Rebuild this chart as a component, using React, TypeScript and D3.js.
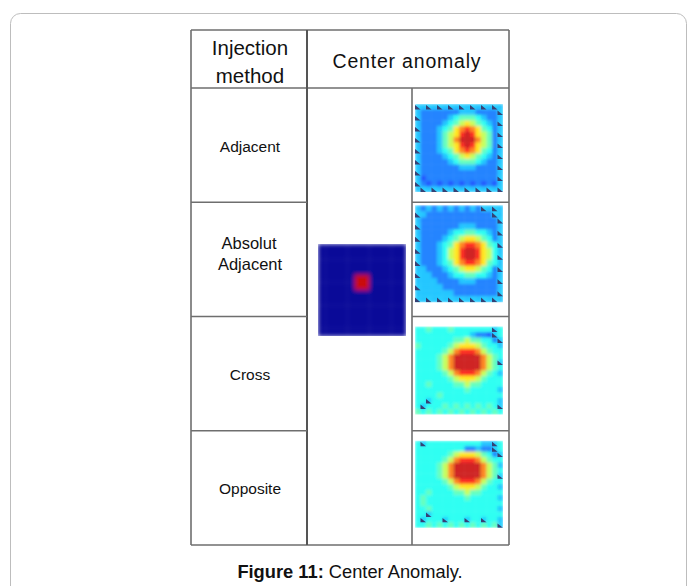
import React from "react";
import * as d3 from "d3";

// ---------- data ----------
const METHODS = ["Adjacent", "Absolut\nAdjacent", "Cross", "Opposite"];
const HEADER_LEFT = ["Injection", "method"];
const HEADER_RIGHT = "Center anomaly";
const CAPTION_BOLD = "Figure 11:";
const CAPTION_TEXT = " Center Anomaly.";

// colour levels (jet colormap positions) keyed by character; "0" marks dark edge triangles
const LEVEL_KEYS = "z0123456789a";
const LEVEL_VALUES = [0.02, 0.32, 0.18, 0.235, 0.31, 0.39, 0.45, 0.56, 0.65, 0.76, 0.86, 0.93];

// injected anomaly (input model)
const INPUT_GRID = [
  "zzzzzzzzzzzz",
  "zzzzzzzzzzzz",
  "zzzzzzzzzzzz",
  "zzzzzzzzzzzz",
  "zzzzzaazzzzz",
  "zzzzzaazzzzz",
  "zzzzzzzzzzzz",
  "zzzzzzzzzzzz",
  "zzzzzzzzzzzz",
  "zzzzzzzzzzzz",
  "zzzzzzzzzzzz",
  "zzzzzzzzzzzz",
];

const ADJACENT_GRID = [
  "0303030303030303",
  "3222222233322220",
  "0222223455543223",
  "3222234567654320",
  "0222345789875423",
  "322235679a976520",
  "02223568aaa86523",
  "322235679a976520",
  "0222345789875423",
  "3222234567654320",
  "0222223455543223",
  "3222222233322220",
  "0222222222222223",
  "3122222222222220",
  "0212121212121213",
  "3030303030303030",
];

const ABSOLUT_GRID = [
  "3232323232320303",
  "0322222222222203",
  "3222222222222220",
  "0222222233322223",
  "3222223445544320",
  "0222234567765423",
  "3222345789987540",
  "022234679aa97643",
  "322234679aa97640",
  "0222345789987543",
  "3322234567765420",
  "0332223445544323",
  "3333222233322220",
  "0333322222222223",
  "3333333222222220",
  "0303030303030303",
];

const CROSS_GRID = [
  "4454445444444404",
  "4444444444322104",
  "4444444556554420",
  "5444445677765443",
  "4444456899986544",
  "4444568aaaaa8654",
  "4444568aaaaa8650",
  "4444568aaaaa8654",
  "4444456899986543",
  "4444445677765444",
  "4454444556554444",
  "4444444445444443",
  "4444544444444444",
  "4404444444444443",
  "4044454545454540",
  "5454545454545454",
];

const OPPOSITE_GRID = [
  "4044444444443304",
  "4444444442232204",
  "4444445677765420",
  "4444456899986544",
  "4444568aaaaa8653",
  "4444568aaaaa8654",
  "4444568aaaaa8650",
  "4444456899986544",
  "4444445677765443",
  "4454444556554444",
  "4544444445444443",
  "4544444444444444",
  "4454444444444443",
  "4404444444444444",
  "4044404440440443",
  "4454545454545450",
];

const RESULT_GRIDS = [ADJACENT_GRID, ABSOLUT_GRID, CROSS_GRID, OPPOSITE_GRID];

// ---------- helpers ----------
const clamp = (v: number) => Math.max(0, Math.min(1, v));
function jet(v: number): string {
  const r = clamp(1.5 - Math.abs(4 * v - 3));
  const g = clamp(1.5 - Math.abs(4 * v - 2));
  const b = clamp(1.5 - Math.abs(4 * v - 1));
  return d3.rgb(r * 255, g * 255, b * 255).formatHex();
}
const levelScale = d3.scaleOrdinal<string, number>().domain(LEVEL_KEYS.split("")).range(LEVEL_VALUES);

function Heatmap({ grid, x, y, w, h, id, blur, wash }: { grid: string[]; x: number; y: number; w: number; h: number; id: string; blur: number; wash: number }) {
  const rows = grid.length;
  const cols = grid[0].length;
  const xs = d3.scaleBand<number>().domain(d3.range(cols)).range([x, x + w]);
  const ys = d3.scaleBand<number>().domain(d3.range(rows)).range([y, y + h]);
  const cells: { r: number; c: number; ch: string; v: number }[] = [];
  grid.forEach((row, r) => row.split("").forEach((ch, c) => cells.push({ r, c, ch, v: levelScale(ch) })));
  const bw = xs.bandwidth();
  const bh = ys.bandwidth();
  const tri = cells.filter((d) => d.ch === "0");
  return (
    <g>
      <defs>
        <clipPath id={`clip-${id}`}>
          <rect x={x} y={y} width={w} height={h} />
        </clipPath>
        <filter id={`blur-${id}`} x="-10%" y="-10%" width="120%" height="120%">
          <feGaussianBlur stdDeviation={blur} edgeMode="duplicate" />
        </filter>
        <filter id={`soft-${id}`} x="-10%" y="-10%" width="120%" height="120%">
          <feGaussianBlur stdDeviation={0.45} />
        </filter>
      </defs>
      <g clipPath={`url(#clip-${id})`}>
        <g filter={`url(#blur-${id})`}>
          {cells.map((d, i) => (
            <rect key={i} x={xs(d.c)} y={ys(d.r)} width={bw + 0.4} height={bh + 0.4} fill={jet(d.v)} />
          ))}
        </g>
        <g filter={`url(#soft-${id})`} fill="#14235e">
          {tri.map((d, i) => {
            const x0 = xs(d.c) as number;
            const y0 = ys(d.r) as number;
            return <path key={i} d={`M${x0},${y0 + bh}L${x0 + bw},${y0 + bh}L${x0},${y0 + bh * 0.2}Z`} />;
          })}
        </g>
        <rect x={x} y={y} width={w} height={h} fill="#ffffff" opacity={wash} />
      </g>
    </g>
  );
}

// ---------- layout ----------
const W = 697;
const H = 586;
const T = { left: 191, c1: 307, c2: 412, right: 509, top: 30, head: 88, bottom: 545 };
const IMG_LEFT = 415;
const IMG_W = 88;
const IMG_OFFSET = [16, 3, 10, 10];
const IMG_H = [88, 97, 88, 87];
const LINE = "#6e6e6e";
const FONT = "'Liberation Sans', Arial, Helvetica, sans-serif";

export default function App() {
  const yBand = d3.scaleBand<string>().domain(METHODS).range([T.head, T.bottom]);
  const cx = (T.left + T.c1) / 2 + 1;
  return (
    <svg width={W} height={H} style={{ position: "absolute", left: 0, top: 0, background: "#fff" }} fontFamily={FONT}>
      <rect x={0} y={0} width={W} height={H} fill="#fff" />
      <rect x={10.5} y={13.5} width={676} height={620} rx={10} ry={10} fill="none" stroke="#bdbdbd" strokeWidth={1} />

      {/* center column input model */}
      <Heatmap grid={INPUT_GRID} x={318} y={244} w={88} h={92} id="input" blur={2.2} wash={0.04} />

      {/* result heatmaps */}
      {METHODS.map((m, i) => (
        <Heatmap
          key={m}
          grid={RESULT_GRIDS[i]}
          x={IMG_LEFT}
          y={(yBand(m) as number) + IMG_OFFSET[i]}
          w={IMG_W}
          h={IMG_H[i]}
          id={`res${i}`}
          blur={1.4}
          wash={0.14}
        />
      ))}

      {/* table lines */}
      <g stroke={LINE} strokeWidth={1.6} fill="none">
        <line x1={T.left} x2={T.right} y1={T.top} y2={T.top} />
        <line x1={T.left} x2={T.right} y1={T.head} y2={T.head} />
        <line x1={T.left} x2={T.right} y1={T.bottom} y2={T.bottom} />
        <line x1={T.left} x2={T.left} y1={T.top} y2={T.bottom} />
        <line x1={T.c1} x2={T.c1} y1={T.top} y2={T.bottom} stroke="#555" strokeWidth={2} />
        <line x1={T.c2} x2={T.c2} y1={T.head} y2={T.bottom} />
        <line x1={T.right} x2={T.right} y1={T.top} y2={T.bottom} />
        {METHODS.slice(1).map((m) => (
          <g key={m}>
            <line x1={T.left} x2={T.c1} y1={yBand(m)} y2={yBand(m)} />
            <line x1={T.c2} x2={T.right} y1={yBand(m)} y2={yBand(m)} />
          </g>
        ))}
      </g>

      {/* header text */}
      <g fill="#111" fontSize={20.5} textAnchor="middle">
        <text x={cx} y={55}>{HEADER_LEFT[0]}</text>
        <text x={cx} y={83}>{HEADER_LEFT[1]}</text>
      </g>
      <text x={407} y={68} fill="#111" fontSize={19.5} letterSpacing={0.8} textAnchor="middle">
        {HEADER_RIGHT}
      </text>

      {/* row labels */}
      {METHODS.map((m) => {
        const lines = m.split("\n");
        const mid = (yBand(m) as number) + yBand.bandwidth() / 2;
        if (lines.length === 1) {
          return (
            <text key={m} x={cx} y={mid + 6.5} fontSize={15.5} fill="#111" textAnchor="middle">
              {m}
            </text>
          );
        }
        return (
          <g key={m} fontSize={16.5} fill="#111" textAnchor="middle">
            <text x={cx - 1} y={mid - 10}>{lines[0]}</text>
            <text x={cx} y={mid + 11}>{lines[1]}</text>
          </g>
        );
      })}

      {/* caption */}
      <text x={350} y={578} fontSize={18.3} fill="#111" textAnchor="middle">
        <tspan fontWeight="bold">{CAPTION_BOLD}</tspan>
        <tspan>{CAPTION_TEXT}</tspan>
      </text>
    </svg>
  );
}
